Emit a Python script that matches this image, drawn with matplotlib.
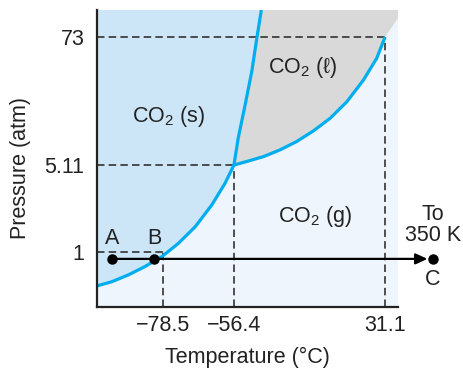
import matplotlib
matplotlib.use("Agg")
import matplotlib.pyplot as plt
from matplotlib.patches import Polygon, FancyArrowPatch

plt.rcParams['font.family'] = ['Liberation Sans', 'DejaVu Sans']
plt.rcParams['mathtext.fontset'] = 'custom'
plt.rcParams['mathtext.rm'] = 'Liberation Sans'
plt.rcParams['mathtext.default'] = 'regular'

# schematic coordinates (axes run 0..100 on both directions)
x_ticks = [22.0, 45.5, 95.7]
x_tick_labels = ['\u221278.5', '\u221256.4', '31.1']
y_ticks = [18.5, 47.8, 90.9]
y_tick_labels = ['1', '5.11', '73']

sub_x = [0.0, 4.9, 10.4, 15.9, 21.5, 27.0, 32.6, 38.1, 42.5, 45.5]
sub_y = [7.1, 8.5, 10.8, 13.6, 16.9, 21.4, 27.0, 34.3, 41.6, 47.8]

melt_x = [45.5, 46.9, 49.2, 51.4, 53.1, 54.6]
melt_y = [47.8, 56.8, 68.0, 79.2, 90.5, 100.0]

vap_x = [45.5, 50.8, 55.2, 60.8, 66.3, 71.9, 77.4, 83.0, 88.5, 92.9, 95.7]
vap_y = [47.8, 49.3, 50.6, 52.9, 55.7, 59.3, 63.5, 69.1, 76.4, 83.7, 90.9]

crit_ext_x = [95.7, 100.0]
crit_ext_y = [90.9, 97.3]

path_y = 16.2
pts_x = [5.0, 18.9, 111.6]
pts_labels = ['A', 'B', 'C']

gas_color = '#eef5fc'
solid_color = '#cce6f7'
liquid_color = '#d9d9d9'
curve_color = '#00aeef'
text_color = '#222222'

fig = plt.figure(figsize=(4.63, 3.70), dpi=100)
ax = fig.add_axes([97/463, 63/370, 301/463, 297/370])
ax.set_xlim(0, 100)
ax.set_ylim(0, 100)
ax.set_facecolor(gas_color)

# solid region
solid_poly = list(zip(sub_x, sub_y)) + list(zip(melt_x[1:], melt_y[1:])) + [(0, 100)]
ax.add_patch(Polygon(solid_poly, closed=True, facecolor=solid_color, edgecolor='none', zorder=1))
# liquid region
liq_poly = list(zip(melt_x, melt_y)) + [(100, 100), (crit_ext_x[1], crit_ext_y[1])] + \
    list(zip(vap_x[::-1], vap_y[::-1]))
ax.add_patch(Polygon(liq_poly, closed=True, facecolor=liquid_color, edgecolor='none', zorder=1))

# dashed guide lines
dkw = dict(color='#333333', lw=1.2, dashes=(4.5, 2.5), zorder=2)
for xt, yt in zip(x_ticks, y_ticks):
    ax.plot([0, xt], [yt, yt], **dkw)
    ax.plot([xt, xt], [0, yt], **dkw)

# phase boundaries
ckw = dict(color=curve_color, lw=2.3, solid_capstyle='butt', solid_joinstyle='round', zorder=3)
ax.plot(sub_x, sub_y, **ckw)
ax.plot(melt_x, melt_y, **ckw)
ax.plot(vap_x, vap_y, **ckw)

# heating path arrow
arr = FancyArrowPatch((pts_x[0], path_y), (pts_x[2] - 1.8, path_y),
                      arrowstyle='-|>,head_length=7,head_width=3.2', mutation_scale=1,
                      color='black', lw=1.6, clip_on=False, zorder=4,
                      shrinkA=0, shrinkB=0)
ax.add_patch(arr)
ax.plot(pts_x, [path_y] * 3, 'o', color='black', ms=6.5, clip_on=False, zorder=5)

fs = 15.5
ax.text(pts_x[0], 22.9, pts_labels[0], ha='center', va='center', fontsize=fs, color=text_color)
ax.text(pts_x[1], 22.9, pts_labels[1], ha='center', va='center', fontsize=fs, color=text_color)
ax.text(pts_x[2], 9.4, pts_labels[2], ha='center', va='center', fontsize=fs, color=text_color)
ax.text(pts_x[2], 27.6, 'To\n350 K', ha='center', va='center', fontsize=fs,
        color=text_color, linespacing=1.0)

ax.text(23.6, 64.0, 'CO$_2$ (s)', ha='center', va='center', fontsize=fs, color=text_color)
ax.text(68.4, 80.5, 'CO$_2$ (\u2113)', ha='center', va='center', fontsize=fs, color=text_color)
ax.text(72.4, 30.6, 'CO$_2$ (g)', ha='center', va='center', fontsize=fs, color=text_color)

ax.set_xticks(x_ticks)
ax.set_xticklabels(x_tick_labels, fontsize=fs, color=text_color)
ax.set_yticks(y_ticks)
ax.set_yticklabels(y_tick_labels, fontsize=fs, color=text_color)
ax.tick_params(axis='x', length=0, pad=6)
ax.tick_params(axis='y', length=0, pad=9)

for s in ['top', 'right']:
    ax.spines[s].set_visible(False)
for s in ['left', 'bottom']:
    ax.spines[s].set_linewidth(1.6)
    ax.spines[s].set_color(text_color)
    ax.spines[s].set_zorder(6)

fig.text(247/463, 1 - 357/370, 'Temperature (\u00b0C)', ha='center', va='center',
         fontsize=fs, color=text_color)
fig.text(21/463, 1 - 168/370, 'Pressure (atm)', ha='center', va='center',
         rotation=90, fontsize=fs, color=text_color)

fig.savefig('out.png', dpi=100)
